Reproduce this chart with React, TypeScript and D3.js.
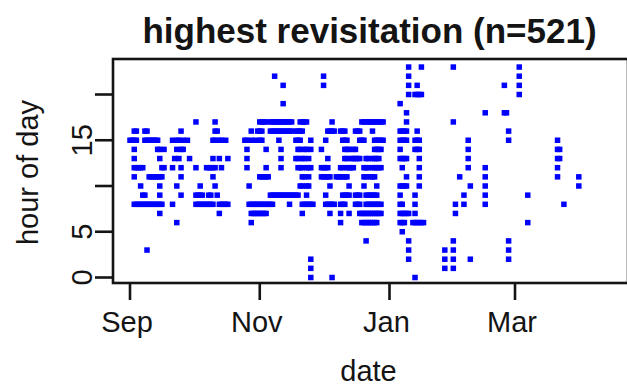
import React from "react";
import * as d3 from "d3";

// Day offsets are counted from 1 September 2006; hour is the hour of day.
const startDate = Date.UTC(2006, 8, 1);

const sepRows: [number, number[]][] = [
  [16, [2, 3, 7, 8]],
  [15, [0, 1, 2, 3, 7, 8, 9, 10, 11, 12, 13]],
  [14, [2, 13, 14, 16]],
  [13, [2, 14]],
  [12, [2, 3, 4, 5, 6, 15, 16]],
  [11, [2, 9, 10, 11, 12, 13, 14, 15]],
  [10, [5, 14]],
  [9, [6, 7, 14]],
  [8, [2, 3, 4, 5, 6, 7, 8, 9, 10, 11, 12, 13, 14, 15]],
  [7, [14]],
  [3, [8]],
];

const octRows: [number, number[]][] = [
  [17, [31, 40]],
  [16, [24, 40, 41]],
  [15, [20, 22, 23, 25, 27, 39, 40, 42, 43, 45]],
  [14, [22, 24, 25]],
  [13, [21, 23, 28, 39, 42, 46]],
  [12, [20, 24, 31, 36, 37, 38, 39, 40, 43]],
  [11, [24, 39]],
  [10, [22, 33, 40]],
  [9, [24, 31, 32, 33, 34, 37, 38, 41]],
  [8, [20, 31, 32, 33, 34, 35, 36, 37, 38, 39, 42, 43, 44, 45, 46]],
  [7, [42]],
  [6, [22]],
];

const novDecRows: [number, number[]][] = [
  [22, [68, 91]],
  [21, [72, 91]],
  [19, [72]],
  [17, [61, 62, 63, 64, 66, 67, 68, 69, 70, 71, 72, 73, 74, 75, 76, 80, 81, 82, 83, 95, 109, 110, 111, 112, 113, 114, 115, 116, 117, 118, 119]],
  [16, [57, 60, 61, 62, 66, 67, 68, 69, 70, 71, 72, 73, 74, 75, 76, 78, 79, 80, 81, 93, 94, 95, 96, 99, 100, 101, 106, 107, 108, 114]],
  [15, [54, 55, 57, 59, 61, 62, 70, 78, 79, 80, 85, 92, 100, 101, 102, 108, 109, 110, 115, 116, 117, 118, 119]],
  [14, [55, 64, 71, 79, 80, 82, 83, 85, 90, 101, 102, 103, 105, 106, 115, 116, 117, 118]],
  [13, [55, 71, 78, 79, 81, 82, 84, 93, 101, 102, 104, 105, 106, 107, 108, 111, 112, 114, 115, 116, 117]],
  [12, [55, 64, 71, 79, 80, 81, 83, 84, 85, 90, 91, 92, 93, 99, 100, 102, 103, 104, 105, 110, 111, 112, 114, 115, 116, 117, 118]],
  [11, [61, 62, 63, 64, 65, 81, 82, 84, 90, 91, 92, 93, 94, 97, 98, 99, 100, 101, 102, 110, 111, 113, 114, 115]],
  [10, [56, 80, 81, 83, 84, 94, 103, 110, 116]],
  [9, [66, 67, 68, 69, 70, 71, 72, 73, 74, 75, 76, 77, 78, 79, 83, 92, 100, 101, 102, 103, 106, 107, 108, 111, 112, 113, 114, 115, 116]],
  [8, [56, 57, 58, 59, 60, 61, 62, 63, 64, 65, 66, 67, 75, 81, 82, 83, 84, 85, 86, 92, 93, 94, 95, 96, 99, 100, 101, 106, 107, 108, 111, 112, 113, 114, 115, 116, 117, 118]],
  [7, [57, 58, 59, 60, 61, 62, 63, 64, 81, 94, 99, 103, 108, 109, 110, 111, 112, 113, 114, 115, 116, 117, 118]],
  [6, [57, 99, 109, 110, 111, 112, 113, 114, 115, 116]],
  [4, [111]],
  [2, [85]],
  [1, [85]],
  [0, [85, 95]],
];

const janRows: [number, number[]][] = [
  [23, [131, 137]],
  [22, [131]],
  [21, [131, 135]],
  [20, [131, 134, 135, 136, 137]],
  [19, [127]],
  [18, [130]],
  [17, [130]],
  [16, [127, 128, 129, 130, 135]],
  [15, [127, 128, 129, 130, 134, 135, 136]],
  [14, [127, 134, 135, 136]],
  [13, [127, 128, 129, 130, 136]],
  [12, [128, 136]],
  [11, [130, 136]],
  [10, [127, 128, 129, 130, 136]],
  [9, [127, 134]],
  [8, [127, 128, 134]],
  [7, [127, 128, 129, 130, 131, 134]],
  [6, [127, 128, 129, 133, 134, 135, 136, 137, 138]],
  [5, [128]],
  [4, [131]],
  [3, [131]],
  [2, [131]],
  [0, [134]],
];

const springRows: [number, number[]][] = [
  [23, [152, 183]],
  [22, [183]],
  [21, [176, 183]],
  [20, [183]],
  [18, [167, 176, 177]],
  [17, [152]],
  [16, [178]],
  [15, [159, 178, 201]],
  [14, [159, 201, 202]],
  [13, [159, 201, 202]],
  [12, [159, 167, 201]],
  [11, [155, 167, 201, 211]],
  [10, [160, 167, 211]],
  [9, [157, 167, 187]],
  [8, [153, 157, 167, 204]],
  [7, [153]],
  [6, [187]],
  [4, [152, 178]],
  [3, [148, 152, 178]],
  [2, [148, 152, 160, 178]],
  [1, [148, 152]],
];

const yTicks = [0, 5, 10, 15, 20];
const yTickLabels = ["0", "5", "", "15", ""];
const xTickDates = [Date.UTC(2006, 8, 1), Date.UTC(2006, 10, 1), Date.UTC(2007, 0, 1), Date.UTC(2007, 2, 1)];
const xTickLabels = ["Sep", "Nov", "Jan", "Mar"];

const titleText = "highest revisitation (n=521)";
const xTitle = "date";
const yTitle = "hour of day";

const allRows = [...sepRows, ...octRows, ...novDecRows, ...janRows, ...springRows];
const points = allRows.flatMap(([hour, days]) =>
  days.map((d) => ({ date: new Date(d3.utcDay.offset(new Date(startDate), d)), hour }))
);

export default function App() {
  const W = 627;
  const H = 389;
  const left = 113;
  const right = 628;
  const top = 59;
  const bottom = 283;

  const x = d3
    .scaleUtc()
    .domain([new Date(Date.UTC(2006, 8, 1)), new Date(Date.UTC(2007, 2, 1))])
    .range([130, 515]);
  const y = d3.scaleLinear().domain([0, 20]).range([277.5, 94.5]);

  const font = "'Liberation Sans', Arial, Helvetica, sans-serif";
  const ink = "#141414";
  const dotW = 5.5;
  const dotH = 5.5;

  return (
    <svg
      width={W}
      height={H}
      viewBox={`0 0 ${W} ${H}`}
      style={{ position: "absolute", left: 0, top: 0, display: "block", background: "#fff" }}
    >
      <rect x={0} y={0} width={W} height={H} fill="#fff" />
      <text
        x={369.5}
        y={43}
        textAnchor="middle"
        fontFamily={font}
        fontWeight="bold"
        fontSize={35}
        fill={ink}
      >
        {titleText}
      </text>

      <g>
        {points.map((p, i) => (
          <rect
            key={i}
            x={x(p.date) - dotW / 2}
            y={y(p.hour) - dotH / 2}
            width={dotW}
            height={dotH}
            fill="#0000ff"
          />
        ))}
      </g>

      <rect
        x={left}
        y={top}
        width={right - left}
        height={bottom - top}
        fill="none"
        stroke={ink}
        strokeWidth={2.6}
      />

      {yTicks.map((t, i) => (
        <g key={"y" + t}>
          <line x1={95} x2={left} y1={y(t)} y2={y(t)} stroke={ink} strokeWidth={2.6} />
          {yTickLabels[i] && (
            <text
              transform={`translate(92,${y(t)}) rotate(-90)`}
              textAnchor="middle"
              fontFamily={font}
              fontSize={29}
              fill={ink}
            >
              {yTickLabels[i]}
            </text>
          )}
        </g>
      ))}

      {xTickDates.map((t, i) => (
        <g key={"x" + i}>
          <line
            x1={x(new Date(t))}
            x2={x(new Date(t))}
            y1={bottom}
            y2={300}
            stroke={ink}
            strokeWidth={2.6}
          />
          <text
            x={x(new Date(t)) - 3}
            y={332}
            textAnchor="middle"
            fontFamily={font}
            fontSize={29}
            fill={ink}
          >
            {xTickLabels[i]}
          </text>
        </g>
      ))}

      <text x={368.5} y={381} textAnchor="middle" fontFamily={font} fontSize={29} fill={ink}>
        {xTitle}
      </text>
      <text
        transform={`translate(37.5,172.5) rotate(-90)`}
        textAnchor="middle"
        fontFamily={font}
        fontSize={29}
        fill={ink}
      >
        {yTitle}
      </text>
    </svg>
  );
}
